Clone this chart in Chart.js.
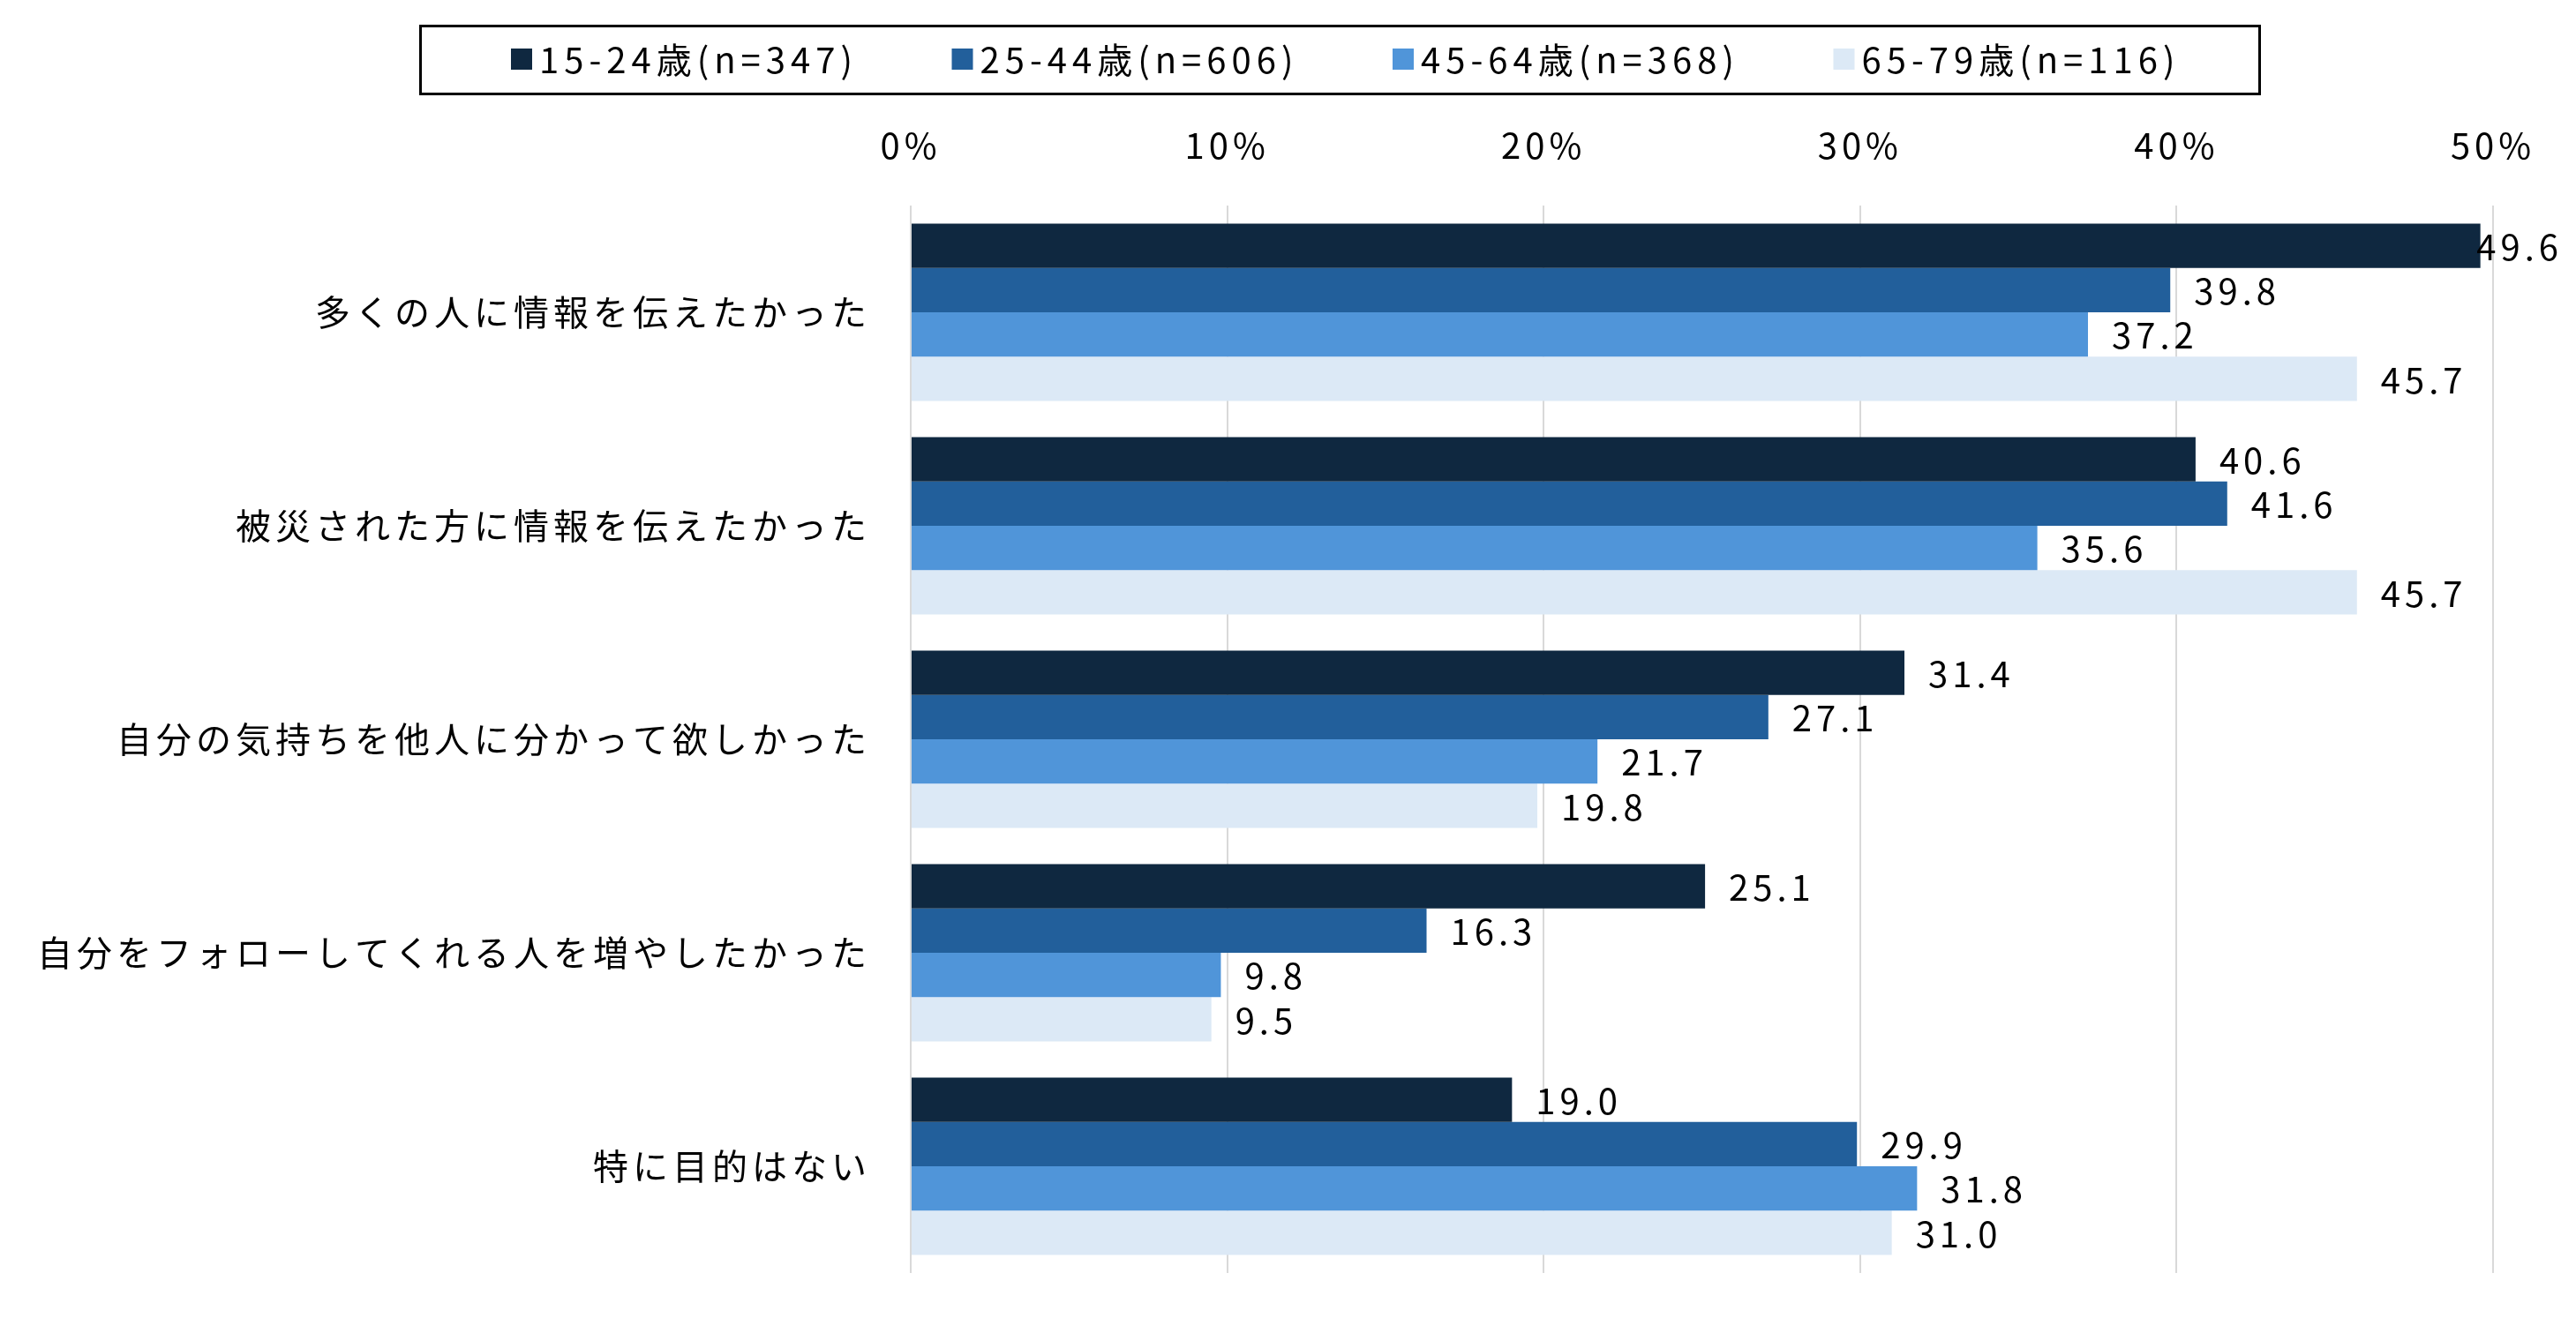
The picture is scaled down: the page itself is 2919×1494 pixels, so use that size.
<!DOCTYPE html>
<html lang="ja">
<head>
<meta charset="utf-8">
<script src="https://cdn.jsdelivr.net/npm/chart.js@4.4.1/dist/chart.umd.min.js"></script>
<style>
    html, body { margin:0; padding:0; background:#fff; }
    #wrap { position:relative; width:2919px; height:1494px; }
</style>
</head>
<body>
<div id="wrap"><canvas id="chart"></canvas></div>
<script>
// --- data ---
const categories = [
    "多くの人に情報を伝えたかった",
    "被災された方に情報を伝えたかった",
    "自分の気持ちを他人に分かって欲しかった",
    "自分をフォローしてくれる人を増やしたかった",
    "特に目的はない",
];
const seriesNames = ["15-24歳(n=347)", "25-44歳(n=606)", "45-64歳(n=368)", "65-79歳(n=116)"];
const age15_24 = [49.6, 40.6, 31.4, 25.1, 19.0];
const age25_44 = [39.8, 41.6, 27.1, 16.3, 29.9];
const age45_64 = [37.2, 35.6, 21.7, 9.8, 31.8];
const age65_79 = [45.7, 45.7, 19.8, 9.5, 31.0];
const xTickLabels = ["0%", "10%", "20%", "30%", "40%", "50%"];

const colors = ["#0f2840", "#225f9b", "#5095d9", "#dce9f6"];
const FONT = "'Noto Sans CJK JP', 'Noto Sans', sans-serif";
const SPACING = "5px";

// letter spacing for every text Chart.js measures or draws
const spacingPlugin = {
    id: "spacing",
    beforeUpdate(chart) { chart.ctx.letterSpacing = SPACING; },
    beforeDraw(chart) { chart.ctx.letterSpacing = SPACING; },
};

// boxed legend, drawn above the axis
const boxLegend = {
    id: "boxLegend",
    afterDraw(chart) {
        const ctx = chart.ctx;
        ctx.save();
        ctx.letterSpacing = "6px";
        ctx.strokeStyle = "#000";
        ctx.lineWidth = 3;
        ctx.strokeRect(476.5, 29.5, 2084, 77);
        ctx.font = "40px " + FONT;
        ctx.textBaseline = "middle";
        ctx.textAlign = "left";
        chart.data.datasets.forEach((ds, i) => {
            const x = 579 + i * 499.5;
            ctx.fillStyle = ds.backgroundColor;
            ctx.fillRect(x, 55, 24, 24);
            ctx.fillStyle = "#000";
            ctx.fillText(ds.label, x + 32, 68);
        });
        ctx.restore();
    },
};

// value labels right of each bar, kept inside the canvas
const valueLabels = {
    id: "valueLabels",
    afterDatasetsDraw(chart) {
        const ctx = chart.ctx;
        ctx.save();
        ctx.letterSpacing = SPACING;
        ctx.font = "40px " + FONT;
        ctx.fillStyle = "#000";
        ctx.textBaseline = "middle";
        ctx.textAlign = "left";
        chart.data.datasets.forEach((ds, di) => {
            chart.getDatasetMeta(di).data.forEach((bar, i) => {
                const txt = ds.data[i].toFixed(1);
                const w = ctx.measureText(txt).width;
                const x = Math.min(bar.x + 27, chart.width - 15 - w);
                ctx.fillText(txt, x, bar.y + 1);
            });
        });
        ctx.restore();
    },
};

new Chart(document.getElementById("chart"), {
    type: "bar",
    data: {
        labels: categories,
        datasets: [age15_24, age25_44, age45_64, age65_79].map((d, i) => ({
            label: seriesNames[i],
            data: d,
            backgroundColor: colors[i],
            borderWidth: 0,
            barPercentage: 1.0,
            categoryPercentage: 0.83,
        })),
    },
    options: {
        indexAxis: "y",
        responsive: true,
        maintainAspectRatio: false,
        devicePixelRatio: 1,
        animation: false,
        layout: { padding: { top: 107, right: 94, bottom: 51, left: 0 } },
        plugins: { legend: { display: false }, tooltip: { enabled: false } },
        scales: {
            x: {
                position: "top",
                min: 0, max: 50,
                afterFit: s => { s.height = 126; },
                ticks: {
                    stepSize: 10,
                    padding: 44,
                    color: "#000",
                    font: { family: FONT, size: 40 },
                    callback: (v, i) => xTickLabels[i],
                },
                grid: { color: "#d9d9d9", lineWidth: 2, drawTicks: false },
                border: { display: false },
            },
            y: {
                afterFit: s => { s.width = 1032; s.paddingTop = 0; s.paddingBottom = 0; },
                ticks: {
                    padding: 45,
                    color: "#000",
                    font: { family: FONT, size: 40 },
                },
                grid: { display: false, drawTicks: false },
                border: { display: false },
            },
        },
    },
    plugins: [spacingPlugin, valueLabels, boxLegend],
});
</script>
</body>
</html>
